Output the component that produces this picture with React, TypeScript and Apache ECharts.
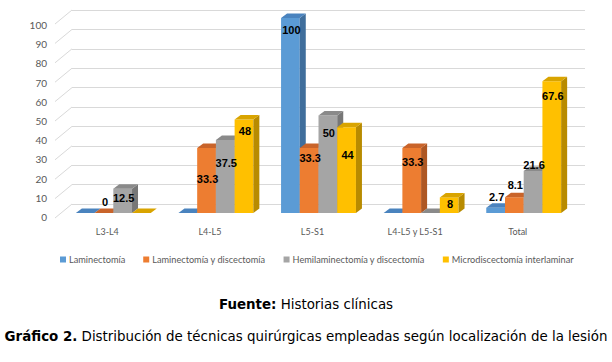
import React, { useEffect, useRef } from "react";
import * as echarts from "echarts";

const categories = ["L3-L4", "L4-L5", "L5-S1", "L4-L5 y L5-S1", "Total"];
const seriesNames = [
  "Laminectomía",
  "Laminectomía y discectomía",
  "Hemilaminectomía y discectomía",
  "Microdiscectomía interlaminar",
];
// null = bar drawn flat, without a value label
const laminectomia: (number | null)[] = [null, null, 100, null, 2.7];
const laminectomiaDiscectomia: (number | null)[] = [0, 33.3, 33.3, 33.3, 8.1];
const hemilaminectomia: (number | null)[] = [12.5, 37.5, 50, null, 21.6];
const microdiscectomia: (number | null)[] = [null, 48, 44, 8, 67.6];
const yTicks = [0, 10, 20, 30, 40, 50, 60, 70, 80, 90, 100];

const allValues = [laminectomia, laminectomiaDiscectomia, hemilaminectomia, microdiscectomia];

// style: vertical shift of each value label relative to the bar's top edge
const labelShift = [
  [0, 0, 12, 0, -11],
  [-11, 31, 10, 14, -12],
  [9, 23, 17, 0, -6],
  [0, 12, 28, 7, 15],
];

const faces = [
  { front: "#5B9BD5", top: "#4A83BE", side: "#3F6E9C" },
  { front: "#ED7D31", top: "#C9642A", side: "#AE5723" },
  { front: "#A5A5A5", top: "#8A8A8A", side: "#777777" },
  { front: "#FFC000", top: "#D9A400", side: "#B88B00" },
];

const DX = 6;
const DY = -4.5;
const BAR_RATIO = 0.1825;

function barX(api: any, cat: number, k: number) {
  const c = api.coord([cat, 0]);
  const band = api.size([1, 0])[0];
  const w = band * BAR_RATIO;
  const x0 = c[0] + (k - 2) * w;
  return { x0, x1: x0 + w, w, bottom: c[1] };
}

export default function App() {
  const ref = useRef<HTMLDivElement>(null);
  useEffect(() => {
    if (!ref.current) return;
    const chart = echarts.init(ref.current, null, { renderer: "svg" });
    const axisFont = "Lato";
    const capFont = 13.4;
    const barSeries = allValues.map((vals, k) => ({
      type: "custom",
      name: seriesNames[k],
      xAxisIndex: 2,
      yAxisIndex: 2,
      z: 3,
      itemStyle: { color: faces[k].front },
      data: vals.map((v, i) => [i, v == null ? 0 : v]),
      renderItem: (params: any, api: any) => {
        const cat = api.value(0);
        const v = api.value(1);
        const { x0, x1, bottom } = barX(api, cat, k);
        const top = api.coord([cat, v])[1];
        const f = faces[k];
        return {
          type: "group",
          children: [
            {
              type: "polygon",
              shape: { points: [[x0, top], [x1, top], [x1, bottom], [x0, bottom]] },
              style: { fill: f.front },
            },
            {
              type: "polygon",
              shape: {
                points: [[x1, top], [x1 + DX, top + DY], [x1 + DX, bottom + DY], [x1, bottom]],
              },
              style: { fill: f.side },
            },
            {
              type: "polygon",
              shape: {
                points: [[x0, top], [x1, top], [x1 + DX, top + DY], [x0 + DX, top + DY]],
              },
              style: { fill: f.top },
            },
          ],
        };
      },
    }));

    const labelData: number[][] = [];
    allValues.forEach((vals, k) =>
      vals.forEach((v, i) => {
        if (v != null) labelData.push([i, k, v, labelShift[k][i]]);
      })
    );

    const option: any = {
      animation: false,
      backgroundColor: "#ffffff",
      title: [
        {
          text: "{b|Fuente:} Historias clínicas",
          left: "center",
          top: 293,
          textStyle: {
            fontSize: capFont,
            fontFamily: "DejaVu Sans",
            fontWeight: "normal",
            color: "#000",
            rich: { b: { fontSize: capFont, fontFamily: "DejaVu Sans", fontWeight: "bold", color: "#000" } },
          },
        },
        {
          text: "{b|Gráfico 2.} Distribución de técnicas quirúrgicas empleadas según localización de la lesión",
          left: "center",
          top: 325,
          textStyle: {
            fontSize: capFont,
            fontFamily: "DejaVu Sans",
            fontWeight: "normal",
            color: "#000",
            rich: { b: { fontSize: capFont, fontFamily: "DejaVu Sans", fontWeight: "bold", color: "#000" } },
          },
        },
      ],
      legend: {
        data: seriesNames,
        left: 55,
        top: 250,
        icon: "rect",
        itemWidth: 6,
        itemHeight: 6,
        itemGap: 18,
        textStyle: { fontSize: 9.2, fontFamily: axisFont, color: "#595959", padding: [0, 0, 0, -2] },
      },
      grid: [
        { left: 72, right: 27, top: 10, height: 194 },
        { left: 55, width: 10, top: 25, height: 192 },
        { left: 62, right: 37, top: 18, height: 195 },
      ],
      xAxis: [
        { gridIndex: 0, type: "value", min: 0, max: 1, show: false },
        { gridIndex: 1, type: "value", min: 0, max: 1, show: false },
        {
          gridIndex: 2,
          type: "category",
          data: categories,
          axisLine: { show: false },
          axisTick: { show: false },
          axisLabel: {
            fontSize: 9,
            fontFamily: axisFont,
            color: "#595959",
            margin: 14,
            padding: [0, 12, 0, 0],
          },
        },
      ],
      yAxis: [
        {
          gridIndex: 0,
          type: "value",
          min: 0,
          max: 100,
          interval: 10,
          axisLabel: { show: false },
          axisLine: { show: false },
          axisTick: { show: false },
          splitLine: { lineStyle: { color: "#d9d9d9", width: 1 } },
        },
        {
          gridIndex: 1,
          type: "value",
          min: 0,
          max: 100,
          interval: 10,
          axisLine: { show: false },
          axisTick: { show: false },
          splitLine: { show: false },
          axisLabel: { fontSize: 10, fontFamily: axisFont, color: "#595959", margin: 8 },
        },
        { gridIndex: 2, type: "value", min: 0, max: 100, show: false },
      ],
      series: [
        {
          type: "custom",
          name: "diag",
          xAxisIndex: 0,
          yAxisIndex: 0,
          silent: true,
          z: 1,
          data: yTicks.map((v) => [0, v]),
          renderItem: (params: any, api: any) => {
            const p = api.coord([0, api.value(1)]);
            return {
              type: "line",
              shape: { x1: p[0], y1: p[1], x2: p[0] - 17, y2: p[1] + 14 },
              style: { stroke: "#d9d9d9", lineWidth: 1 },
            };
          },
        },
        ...barSeries,
        {
          type: "custom",
          name: "labels",
          xAxisIndex: 2,
          yAxisIndex: 2,
          silent: true,
          z: 10,
          data: labelData,
          renderItem: (params: any, api: any) => {
            const cat = api.value(0);
            const k = api.value(1);
            const v = api.value(2);
            const shift = api.value(3);
            const { x0, w } = barX(api, cat, k);
            const top = api.coord([cat, v])[1];
            return {
              type: "text",
              x: x0 + w / 2 + 1,
              y: top + shift,
              style: {
                text: String(v),
                fill: "#000",
                font: 'bold 11px "Liberation Sans", Arial, sans-serif',
                align: "center",
                verticalAlign: "middle",
              },
            };
          },
        },
      ],
    };
    chart.setOption(option);
    return () => chart.dispose();
  }, []);
  return (
    <div
      ref={ref}
      style={{ position: "fixed", left: 0, top: 0, width: 612, height: 362, background: "#fff" }}
    />
  );
}
